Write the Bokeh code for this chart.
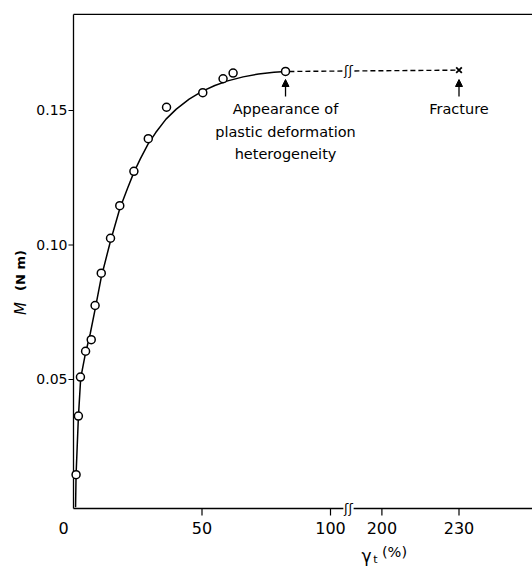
import numpy as np
from bokeh.plotting import figure
from bokeh.models import Range1d, Arrow, NormalHead
from bokeh.core.properties import value
from bokeh.embed import file_html
from bokeh.resources import INLINE

# ---- data (shear strain gamma_t in %, torque M in N m) ----
strain_pts = [1.0, 1.9, 2.7, 4.7, 6.9, 8.4, 10.8, 14.4, 18.0, 23.5, 29.1, 36.2, 50.3, 58.2, 62.1, 82.5]
torque_pts = [0.0146, 0.0364, 0.0509, 0.0605, 0.0648, 0.0775, 0.0895, 0.1025, 0.1146, 0.1274,
              0.1395, 0.1512, 0.1566, 0.1618, 0.1639, 0.1645]
curve_x = [0.8, 1.0, 1.9, 2.8, 4.5, 6.5, 8.5, 10.8, 14.4, 18.0, 21.0, 23.5, 26.0, 29.0, 32.0,
           36.0, 40.0, 45.0, 50.0, 55.0, 60.0, 66.0, 72.0, 78.0, 82.5]
curve_y = [0.0025, 0.0146, 0.036, 0.0505, 0.059, 0.067, 0.0765, 0.088, 0.1015, 0.1135, 0.121,
           0.127, 0.132, 0.1375, 0.1418, 0.1468, 0.1505, 0.1542, 0.1571, 0.1593, 0.1610, 0.1625,
           0.1636, 0.1642, 0.1645]
fracture_x = [230.0]
fracture_y = [0.1650]
x_tick_values = [50, 100, 200, 230]
x_tick_labels = ["50", "100", "200", "230"]
y_tick_values = [0.05, 0.10, 0.15]
y_tick_labels = ["0.05", "0.10", "0.15"]

# broken axis: values above 100 % are shifted left by 80
BREAK_SHIFT = 80.0
BREAK_POS = 107.0
Y0 = 0.00204      # bottom of the axes box
Y1 = 0.1857       # top of the axes box
X1 = 178.6        # right edge of the box


def disp(x):
    return x if x <= 100 else x - BREAK_SHIFT


# pixel -> data helpers (for placing texts around the box)
def xd(px):
    return (px - 73) / 2.57


def yd(py):
    return Y0 + (508 - py) / 2690


FONT = value("DejaVu Sans")

p = figure(width=532, height=567, x_range=Range1d(xd(0), xd(532)), y_range=Range1d(yd(567), yd(0)),
           output_backend="svg", toolbar_location=None,
           min_border_left=0, min_border_right=0, min_border_top=0, min_border_bottom=0)
p.axis.visible = False
p.xgrid.visible = False
p.ygrid.visible = False
p.outline_line_color = None
p.background_fill_color = "white"
p.border_fill_color = "white"

AX_W = 1.3

# axes box: left, top, bottom (broken)
p.line([0, 0], [Y0, Y1], line_color="black", line_width=AX_W)
p.line([0, X1], [Y1, Y1], line_color="black", line_width=AX_W)
p.line([0, BREAK_POS - 2.0], [Y0, Y0], line_color="black", line_width=AX_W)
p.line([BREAK_POS + 2.0, X1], [Y0, Y0], line_color="black", line_width=AX_W)
p.text([BREAK_POS], [Y0], text=["ʃʃ"], text_font=FONT, text_font_size="13px", text_color="black",
       text_align="center", text_baseline="middle")

# ticks and tick labels
xt = [disp(v) for v in x_tick_values]
p.segment(x0=xt, y0=[Y0] * len(xt), x1=xt, y1=[yd(515)] * len(xt), line_color="black", line_width=1.2)
p.text(xt, [yd(527)] * len(xt), text=x_tick_labels, text_font=FONT, text_font_size="16px",
       text_color="black", text_align="center", text_baseline="middle")
p.text([xd(63)], [yd(527)], text=["0"], text_font=FONT, text_font_size="16px",
       text_color="black", text_align="center", text_baseline="middle")
p.segment(x0=[xd(68)] * 3, y0=y_tick_values, x1=[0] * 3, y1=y_tick_values, line_color="black",
          line_width=1.2)
p.text([xd(67)] * 3, y_tick_values, text=y_tick_labels, text_font=FONT, text_font_size="14px",
       text_color="black", text_align="right", text_baseline="middle")

# curve + points
p.line([disp(v) for v in curve_x], curve_y, line_color="black", line_width=1.5)
p.scatter([disp(v) for v in strain_pts], torque_pts, marker="circle", size=8,
          fill_color="white", line_color="black", line_width=1.5)

# dashed continuation to fracture, broken at BREAK_POS
x0, y0 = disp(strain_pts[-1]), torque_pts[-1]
x1, y1 = disp(fracture_x[0]), fracture_y[0]
xl = BREAK_POS - 2.3
xr = BREAK_POS + 2.3
p.line([x0 + 1.5, xl], [y0, np.interp(xl, [x0, x1], [y0, y1])], line_color="black", line_width=1.4,
       line_dash="5 3")
p.line([xr, x1], [np.interp(xr, [x0, x1], [y0, y1]), y1], line_color="black", line_width=1.4,
       line_dash="5 3")
p.text([BREAK_POS], [np.interp(BREAK_POS, [x0, x1], [y0, y1])], text=["ʃʃ"], text_font=FONT,
       text_font_size="13px", text_color="black", text_align="center", text_baseline="middle")
p.scatter([disp(v) for v in fracture_x], fracture_y, marker="x", size=8, line_color="black",
          line_width=1.8)


def lab(x, y, text, size="15px", style="normal", angle=0.0, align="center"):
    p.text([x], [y], text=[text], text_font=FONT, text_font_size=size, text_font_style=style,
           text_align=align, text_baseline="middle", angle=angle, text_color="black")


# annotations
ann_x = disp(strain_pts[-1])
lab(ann_x, yd(108), "Appearance of", "14.5px")
lab(ann_x, yd(131), "plastic deformation", "14.5px")
lab(ann_x, yd(153), "heterogeneity", "14.5px")
lab(disp(fracture_x[0]), yd(108), "Fracture", "14.5px")
for ax in (ann_x, disp(fracture_x[0])):
    p.add_layout(Arrow(x_start=ax, y_start=yd(96), x_end=ax, y_end=yd(79),
                       line_width=1.3, line_color="black",
                       end=NormalHead(size=7, fill_color="black", line_color="black")))

# axis titles
lab(xd(20), yd(308), "M", "15px", "italic", angle=np.pi / 2)
lab(xd(20), yd(270), "(N m)", "13px", "bold", angle=np.pi / 2)
lab(xd(366), yd(555), "γ", "17px")
lab(xd(375), yd(559), "t", "11px")
lab(xd(394), yd(551), "(%)", "14.5px")

open("out.html", "w").write(file_html(p, INLINE))
